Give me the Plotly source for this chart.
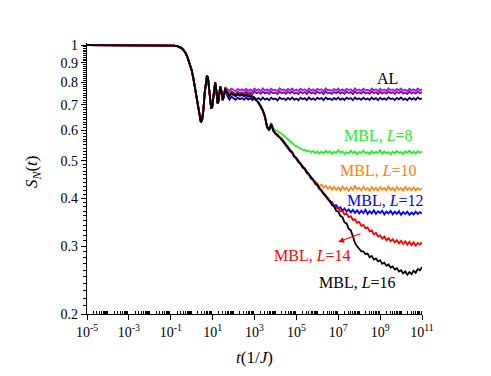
import numpy as np
import plotly.graph_objects as go

# ---- data (log10 of time in units of 1/J, and S_N(t)) ----
log_t_early = [-5, -4, -3, -2, -1.5, -1.2, -1.0, -0.85, -0.7, -0.6, -0.5, -0.4, -0.3, -0.2,
               -0.1, 0.0, 0.08, 0.16, 0.24, 0.32, 0.38, 0.44, 0.5, 0.56, 0.62, 0.68, 0.73,
               0.78, 0.83, 0.88, 0.93, 0.98, 1.03, 1.08, 1.12, 1.16, 1.2, 1.24, 1.28, 1.32,
               1.36, 1.4, 1.44, 1.48, 1.52]
s_early = [1.0, 1.0, 1.0, 1.0, 1.0, 0.9995, 0.999, 0.997, 0.994, 0.99, 0.984, 0.972, 0.955, 0.93,
           0.895, 0.86, 0.82, 0.77, 0.72, 0.675, 0.645, 0.63, 0.64, 0.68, 0.75, 0.815, 0.835,
           0.82, 0.77, 0.715, 0.685, 0.69, 0.74, 0.79, 0.80, 0.775, 0.73, 0.705, 0.715, 0.755,
           0.78, 0.77, 0.74, 0.72, 0.73]

log_t_tail = [round(1.6 + 0.1 * i, 1) for i in range(95)]  # 1.6 ... 11.0

al_violet = [
    0.778, 0.768, 0.760, 0.771, 0.764, 0.759, 0.769, 0.762, 0.768, 0.761,
    0.770, 0.761, 0.767, 0.759, 0.771, 0.763, 0.768, 0.760, 0.772, 0.762,
    0.767, 0.760, 0.770, 0.763, 0.766, 0.759, 0.772, 0.764, 0.767, 0.760,
    0.769, 0.762, 0.771, 0.761, 0.766, 0.760, 0.770, 0.763, 0.768, 0.759,
    0.771, 0.762, 0.767, 0.760, 0.770, 0.764, 0.768, 0.759, 0.772, 0.763,
    0.766, 0.760, 0.769, 0.762, 0.771, 0.761, 0.767, 0.760, 0.770, 0.764,
    0.768, 0.759, 0.772, 0.763, 0.767, 0.761, 0.770, 0.762, 0.766, 0.760,
    0.771, 0.763, 0.768, 0.759, 0.770, 0.762, 0.767, 0.761, 0.772, 0.764,
    0.767, 0.760, 0.769, 0.763, 0.771, 0.761, 0.766, 0.759, 0.770, 0.762,
    0.768, 0.761, 0.771, 0.763, 0.767]
al_purple = [
    0.772, 0.756, 0.746, 0.758, 0.751, 0.746, 0.756, 0.749, 0.754, 0.747,
    0.757, 0.748, 0.754, 0.746, 0.758, 0.750, 0.755, 0.747, 0.757, 0.749,
    0.754, 0.746, 0.757, 0.750, 0.753, 0.745, 0.758, 0.751, 0.754, 0.747,
    0.756, 0.749, 0.758, 0.748, 0.753, 0.746, 0.757, 0.750, 0.755, 0.746,
    0.758, 0.749, 0.754, 0.747, 0.757, 0.751, 0.755, 0.746, 0.758, 0.750,
    0.753, 0.747, 0.756, 0.749, 0.758, 0.748, 0.754, 0.747, 0.757, 0.751,
    0.755, 0.746, 0.758, 0.750, 0.754, 0.748, 0.757, 0.749, 0.753, 0.747,
    0.758, 0.750, 0.755, 0.746, 0.757, 0.749, 0.754, 0.748, 0.758, 0.751,
    0.754, 0.747, 0.756, 0.750, 0.758, 0.748, 0.753, 0.746, 0.757, 0.749,
    0.755, 0.748, 0.758, 0.750, 0.754]
al_navy = [
    0.762, 0.738, 0.722, 0.734, 0.727, 0.721, 0.730, 0.723, 0.728, 0.721,
    0.730, 0.722, 0.728, 0.719, 0.731, 0.723, 0.728, 0.720, 0.731, 0.722,
    0.727, 0.719, 0.730, 0.723, 0.726, 0.718, 0.731, 0.724, 0.727, 0.720,
    0.729, 0.722, 0.731, 0.721, 0.726, 0.719, 0.730, 0.723, 0.728, 0.719,
    0.731, 0.722, 0.727, 0.720, 0.730, 0.724, 0.728, 0.719, 0.731, 0.723,
    0.726, 0.720, 0.729, 0.722, 0.731, 0.721, 0.727, 0.720, 0.730, 0.724,
    0.728, 0.719, 0.731, 0.723, 0.727, 0.721, 0.730, 0.722, 0.726, 0.720,
    0.731, 0.723, 0.728, 0.719, 0.730, 0.722, 0.727, 0.721, 0.731, 0.724,
    0.727, 0.720, 0.729, 0.723, 0.731, 0.721, 0.726, 0.719, 0.730, 0.722,
    0.728, 0.721, 0.731, 0.723, 0.727]

mbl_L8 = [
    0.769, 0.749, 0.740, 0.751, 0.744, 0.739, 0.749, 0.742, 0.747, 0.740,
    0.745, 0.738, 0.742, 0.736, 0.729, 0.720, 0.709, 0.695, 0.677, 0.653,
    0.614, 0.606, 0.628, 0.607, 0.601, 0.598, 0.593, 0.588, 0.581, 0.575,
    0.568, 0.562, 0.556, 0.550, 0.546, 0.541, 0.539, 0.534, 0.535, 0.529,
    0.532, 0.526, 0.531, 0.524, 0.530, 0.522, 0.529, 0.523, 0.531, 0.525,
    0.530, 0.522, 0.528, 0.524, 0.533, 0.525, 0.529, 0.521, 0.527, 0.523,
    0.531, 0.524, 0.529, 0.520, 0.528, 0.525, 0.532, 0.523, 0.527, 0.521,
    0.530, 0.523, 0.528, 0.525, 0.533, 0.522, 0.529, 0.524, 0.527, 0.520,
    0.529, 0.523, 0.531, 0.524, 0.528, 0.521, 0.530, 0.525, 0.532, 0.523,
    0.529, 0.522, 0.530, 0.526, 0.528]
mbl_L10 = [
    0.767, 0.747, 0.739, 0.752, 0.743, 0.740, 0.747, 0.740, 0.745, 0.738,
    0.743, 0.736, 0.740, 0.734, 0.727, 0.718, 0.707, 0.692, 0.675, 0.651,
    0.611, 0.602, 0.621, 0.599, 0.589, 0.582, 0.577, 0.567, 0.560, 0.549,
    0.542, 0.531, 0.526, 0.513, 0.508, 0.497, 0.492, 0.481, 0.477, 0.466,
    0.461, 0.451, 0.446, 0.440, 0.438, 0.430, 0.434, 0.426, 0.431, 0.423,
    0.429, 0.421, 0.428, 0.420, 0.427, 0.419, 0.429, 0.421, 0.426, 0.418,
    0.427, 0.420, 0.431, 0.422, 0.426, 0.419, 0.428, 0.421, 0.425, 0.418,
    0.428, 0.420, 0.426, 0.417, 0.429, 0.421, 0.425, 0.419, 0.430, 0.420,
    0.426, 0.418, 0.428, 0.421, 0.425, 0.417, 0.429, 0.420, 0.426, 0.419,
    0.427, 0.419, 0.425, 0.421, 0.423]
mbl_L12 = [
    0.768, 0.745, 0.736, 0.748, 0.740, 0.736, 0.745, 0.738, 0.743, 0.736,
    0.741, 0.734, 0.738, 0.731, 0.726, 0.717, 0.706, 0.690, 0.674, 0.650,
    0.610, 0.600, 0.620, 0.598, 0.588, 0.581, 0.576, 0.566, 0.559, 0.548,
    0.541, 0.530, 0.525, 0.512, 0.507, 0.496, 0.491, 0.480, 0.476, 0.465,
    0.460, 0.450, 0.446, 0.436, 0.432, 0.422, 0.418, 0.411, 0.404, 0.401,
    0.392, 0.391, 0.382, 0.384, 0.376, 0.379, 0.371, 0.376, 0.369, 0.374,
    0.367, 0.373, 0.366, 0.372, 0.365, 0.371, 0.366, 0.373, 0.364, 0.370,
    0.365, 0.372, 0.364, 0.370, 0.366, 0.371, 0.363, 0.369, 0.365, 0.371,
    0.363, 0.369, 0.364, 0.370, 0.362, 0.368, 0.364, 0.369, 0.362, 0.367,
    0.363, 0.369, 0.364, 0.368, 0.365]
mbl_L14 = [
    0.772, 0.748, 0.742, 0.753, 0.742, 0.741, 0.751, 0.739, 0.748, 0.742,
    0.747, 0.739, 0.744, 0.733, 0.731, 0.716, 0.711, 0.691, 0.679, 0.648,
    0.616, 0.601, 0.622, 0.603, 0.587, 0.586, 0.575, 0.571, 0.558, 0.553,
    0.540, 0.535, 0.524, 0.517, 0.506, 0.501, 0.490, 0.485, 0.475, 0.470,
    0.459, 0.455, 0.445, 0.441, 0.431, 0.427, 0.417, 0.413, 0.404, 0.400,
    0.391, 0.388, 0.383, 0.377, 0.377, 0.370, 0.371, 0.363, 0.365, 0.357,
    0.359, 0.351, 0.353, 0.345, 0.347, 0.339, 0.341, 0.334, 0.336, 0.328,
    0.330, 0.322, 0.325, 0.318, 0.320, 0.314, 0.318, 0.311, 0.315, 0.309,
    0.313, 0.307, 0.311, 0.305, 0.310, 0.304, 0.309, 0.303, 0.308, 0.302,
    0.307, 0.301, 0.306, 0.303, 0.307]
mbl_L16 = [
    0.770, 0.752, 0.738, 0.750, 0.745, 0.738, 0.748, 0.741, 0.746, 0.739,
    0.744, 0.737, 0.741, 0.735, 0.728, 0.719, 0.708, 0.694, 0.676, 0.652,
    0.613, 0.604, 0.624, 0.600, 0.590, 0.583, 0.578, 0.568, 0.561, 0.550,
    0.543, 0.532, 0.527, 0.514, 0.509, 0.498, 0.493, 0.482, 0.478, 0.467,
    0.462, 0.452, 0.448, 0.438, 0.434, 0.424, 0.420, 0.410, 0.407, 0.397,
    0.394, 0.384, 0.381, 0.371, 0.369, 0.360, 0.357, 0.346, 0.344, 0.333,
    0.330, 0.318, 0.306, 0.300, 0.296, 0.291, 0.291, 0.286, 0.287, 0.281,
    0.283, 0.277, 0.279, 0.274, 0.276, 0.270, 0.272, 0.267, 0.269, 0.264,
    0.266, 0.261, 0.263, 0.258, 0.260, 0.255, 0.258, 0.253, 0.257, 0.254,
    0.259, 0.256, 0.262, 0.260, 0.265]

x_label_exponents = [-5, -3, -1, 1, 3, 5, 7, 9, 11]
y_tick_values = [0.2, 0.3, 0.4, 0.5, 0.6, 0.7, 0.8, 0.9, 1.0]
y_tick_labels = ["0.2", "0.3", "0.4", "0.5", "0.6", "0.7", "0.8", "0.9", "1"]

# ---- figure ----
FONT = "Liberation Serif, Times New Roman, serif"
t = 10 ** np.array(log_t_early + log_t_tail, dtype=float)

series = [
    (al_violet, "#9A1BF0"),
    (al_purple, "#8A008A"),
    (al_navy, "#00007F"),
    (mbl_L8, "#1FF21F"),
    (mbl_L10, "#FF8A1C"),
    (mbl_L12, "#0000FF"),
    (mbl_L14, "#FF0000"),
    (mbl_L16, "#000000"),
]

fig = go.Figure()
for tail, color in series:
    assert len(tail) == len(log_t_tail)
    fig.add_trace(go.Scatter(x=t, y=s_early + tail, mode="lines",
                             line=dict(color=color, width=1.8), showlegend=False,
                             hoverinfo="skip"))

x_ticktext = [f"10<sup>{k}</sup>" for k in x_label_exponents]
x_minor = [m * 10.0 ** k for k in range(-5, 11) for m in range(1, 10)
           if not (m == 1 and k in x_label_exponents)]
y_minor = [round(0.2 + 0.01 * i, 2) for i in range(1, 80)]
y_minor = [v for v in y_minor if round(v * 10, 6) != round(v * 10)]

fig.update_xaxes(type="log", range=[-5, 11], showline=True, linecolor="black", linewidth=1.2,
                 showgrid=False, zeroline=False, tickmode="array",
                 tickvals=[10.0 ** k for k in x_label_exponents], ticktext=x_ticktext,
                 ticks="outside", ticklen=5, tickwidth=1, tickcolor="black",
                 minor=dict(tickmode="array", tickvals=x_minor, ticks="inside", ticklen=3,
                            tickwidth=1, tickcolor="black"),
                 tickfont=dict(family=FONT, size=14, color="black"))
fig.update_yaxes(type="log", range=[np.log10(0.2), 0.0055], showline=True, linecolor="black",
                 linewidth=1.2, showgrid=False, zeroline=False, tickmode="array",
                 tickvals=y_tick_values, ticktext=y_tick_labels,
                 ticks="outside", ticklen=5, tickwidth=1, tickcolor="black",
                 minor=dict(tickmode="array", tickvals=y_minor, ticks="outside", ticklen=3,
                            tickwidth=1, tickcolor="black"),
                 tickfont=dict(family=FONT, size=14, color="black"))

labels = [
    ("AL", 9.33, -0.086, "black"),
    ("MBL, <i>L</i>=8", 8.90, -0.234, "#22EE22"),
    ("MBL, <i>L</i>=10", 8.90, -0.325, "#FF8000"),
    ("MBL, <i>L</i>=12", 9.28, -0.403, "#0000FF"),
    ("MBL, <i>L</i>=14", 5.75, -0.546, "#FF0000"),
    ("MBL, <i>L</i>=16", 7.94, -0.618, "black"),
]
for text, lx, ly, c in labels:
    fig.add_annotation(x=lx, y=ly, xref="x", yref="y", text=text, showarrow=False,
                       font=dict(family=FONT, size=16, color=c), xanchor="center",
                       yanchor="middle")

# red arrow near the L=14 label
fig.add_annotation(x=6.99, y=-0.512, ax=8.13, ay=-0.489, xref="x", yref="y", axref="x",
                   ayref="y", text="", showarrow=True, arrowhead=2, arrowsize=1,
                   arrowwidth=1.2, arrowcolor="#FF0000")

fig.add_annotation(x=-0.161, y=0.524, xref="paper", yref="paper",
                   text="<i>S</i><sub><i>N</i></sub>(<i>t</i>)", textangle=-90,
                   showarrow=False, font=dict(family=FONT, size=17, color="black"),
                   xanchor="center", yanchor="middle")
fig.add_annotation(x=0.501, y=-0.159, xref="paper", yref="paper",
                   text="<i>t</i>(1/<i>J</i>)", showarrow=False,
                   font=dict(family=FONT, size=17, color="black"),
                   xanchor="center", yanchor="middle")

# the page body adds an 8 px offset, so margins are reduced on the left/top
fig.update_layout(width=491, height=376, margin=dict(l=79, r=77, t=35, b=70),
                  paper_bgcolor="white", plot_bgcolor="white")

fig.write_html("out.html")
